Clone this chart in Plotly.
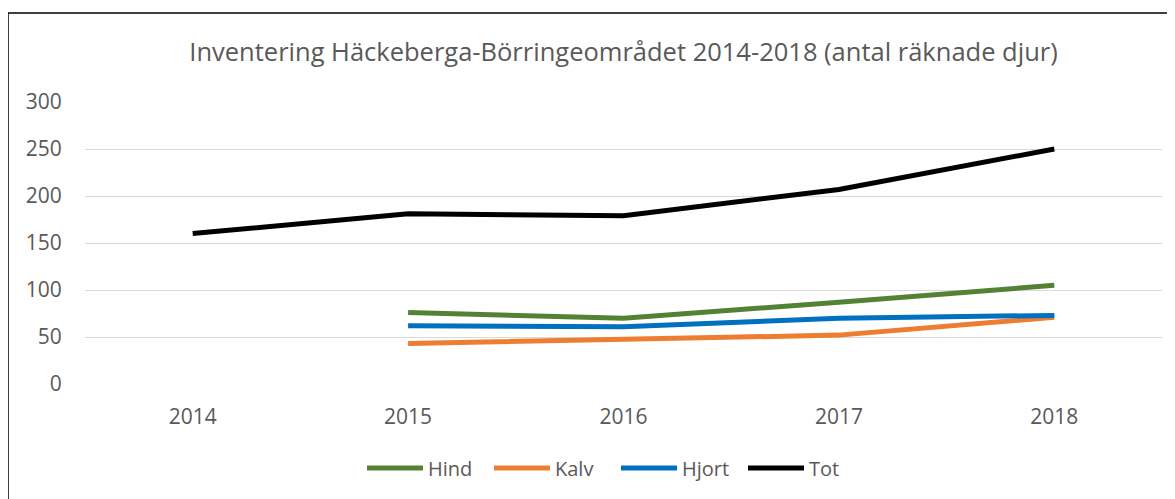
import plotly.graph_objects as go

years = ["2014", "2015", "2016", "2017", "2018"]
hind = [None, 76, 70, 87, 105]
kalv = [None, 43, 48, 52, 71]
hjort = [None, 62, 61, 70, 73]
tot = [160, 181, 179, 207, 250]

series = [
    ("Hind", hind, "#548235"),
    ("Kalv", kalv, "#ED7D31"),
    ("Hjort", hjort, "#0070C0"),
    ("Tot", tot, "#000000"),
]

title_text = "Inventering Häckeberga-Börringeområdet 2014-2018 (antal räknade djur)"
y_ticks = [0, 50, 100, 150, 200, 250, 300]

# page body has an 8px margin; figure coordinates are page coordinates minus 8
OFF = 8
W, H = 1175 - 2 * OFF, 499 - OFF
L, T = 85 - OFF, 102 - OFF
R = W - (1162 - OFF)
B = H - (384 - OFF)
pw, ph = W - L - R, H - T - B

fig = go.Figure()
for name, vals, col in series:
    fig.add_trace(go.Scatter(
        x=years, y=vals, name=name, mode="lines",
        line=dict(color=col, width=5),
        connectgaps=False,
    ))

font_family = "Open Sans, Liberation Sans, sans-serif"
txt = "#595959"

fig.update_layout(
    width=W, height=H,
    margin=dict(l=L, r=R, t=T, b=B, autoexpand=False),
    paper_bgcolor="white", plot_bgcolor="white",
    font=dict(family=font_family, color=txt, size=21),
    title=dict(text=title_text, x=0.5, xref="paper", xanchor="center",
               y=1 - (52 - OFF) / H, yref="container", yanchor="middle",
               font=dict(size=25.5, color=txt, family=font_family)),
    showlegend=True,
    legend=dict(orientation="h", x=(362 - OFF - L) / pw, xanchor="left",
                y=(T + ph - (468 - OFF)) / ph, yanchor="middle",
                font=dict(size=20, color=txt),
                itemwidth=56, entrywidth=56, entrywidthmode="pixels",
                tracegroupgap=0, bgcolor="rgba(0,0,0,0)"),
    xaxis=dict(type="category", range=[-0.5, 4.5], showgrid=False,
               zeroline=False, showline=False,
               ticks="outside", ticklen=14, tickcolor="rgba(0,0,0,0)",
               tickfont=dict(size=21, color=txt)),
    yaxis=dict(range=[0, 300], tickvals=y_ticks, showgrid=True,
               gridcolor="#D9D9D9", gridwidth=1, zeroline=False, showline=False,
               ticks="outside", ticklen=18, tickcolor="rgba(0,0,0,0)",
               tickfont=dict(size=21, color=txt)),
)

# outer chart border: only left and top edges are visible in the reference
bx = (8 - OFF - L) / pw
by = (T + ph - (13 - OFF)) / ph
border = dict(color="#000000", width=1.5)
fig.add_shape(type="line", xref="paper", yref="paper",
              x0=bx, x1=bx, y0=by, y1=(T + ph - (H + 40)) / ph, line=border)
fig.add_shape(type="line", xref="paper", yref="paper",
              x0=bx, x1=(W + 20 - L) / pw, y0=by, y1=by, line=border)

fig.write_html("out.html")
